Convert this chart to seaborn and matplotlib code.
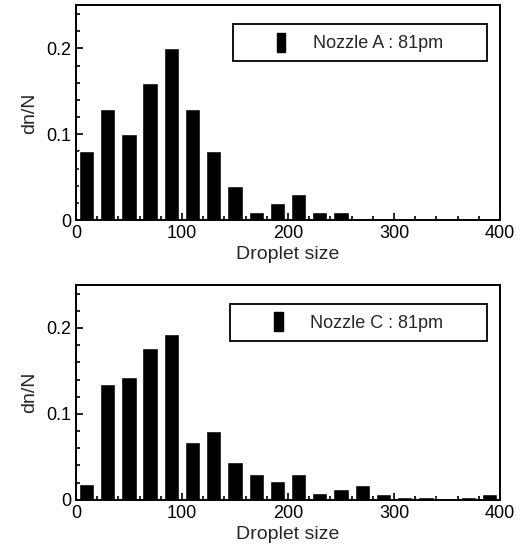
"""Droplet size distribution for two nozzles (stacked bar histograms)."""

import matplotlib.pyplot as plt
import pandas as pd
import seaborn as sns
from matplotlib.legend_handler import HandlerPatch
from matplotlib.patches import Patch, Rectangle
from matplotlib.ticker import MultipleLocator

size_a = [10, 30, 50, 70, 90, 110, 130, 150, 170, 190, 210, 230, 250]
frac_a = [0.08, 0.13, 0.10, 0.16, 0.20, 0.13, 0.08, 0.04, 0.01, 0.02, 0.03, 0.01, 0.01]

size_c = [10, 30, 50, 70, 90, 110, 130, 150, 170, 190, 210, 230, 250, 270,
          290, 310, 330, 350, 370, 390]
frac_c = [0.018, 0.135, 0.143, 0.177, 0.193, 0.067, 0.080, 0.044, 0.030, 0.022,
          0.030, 0.008, 0.012, 0.017, 0.007, 0.0035, 0.003, 0.0, 0.003, 0.007]

labels = ["Nozzle A : 81pm", "Nozzle C : 81pm"]


def setup_style() -> None:
    sns.set_theme(style="ticks")
    plt.rcParams["font.family"] = ["Liberation Sans", "DejaVu Sans"]
    plt.rcParams["axes.linewidth"] = 1.4
    plt.rcParams["axes.edgecolor"] = "black"


def narrow_bar(legend, orig_handle, xdescent, ydescent, width, height, fontsize):
    # small upright block, sitting to the right of the handle area
    w = 0.45 * fontsize
    h = 1.05 * fontsize
    x = -xdescent + 0.72 * width - w / 2
    y = -ydescent + height / 2 - h / 2
    return Rectangle((x, y), w, h)


def draw_panel(ax, sizes, fracs, label):
    df = pd.DataFrame({"size": sizes, "frac": fracs})
    sns.barplot(data=df, x="size", y="frac", native_scale=True, color="black",
                saturation=1, width=0.72, ax=ax)
    ax.set_xlim(0, 400)
    ax.set_ylim(0, 0.25)
    ax.set_xticks([0, 100, 200, 300, 400])
    ax.set_yticks([0, 0.1, 0.2])
    ax.set_yticklabels(["0", "0.1", "0.2"])
    ax.xaxis.set_minor_locator(MultipleLocator(20))
    ax.yaxis.set_minor_locator(MultipleLocator(0.02))
    ax.tick_params(which="both", direction="in", colors="black", labelsize=13,
                   width=1.2)
    ax.tick_params(which="major", length=5)
    ax.tick_params(which="minor", length=3)
    ax.set_xlabel("Droplet size", fontsize=14, labelpad=3)
    ax.set_ylabel("dn/N", fontsize=14, labelpad=6)
    for s in ax.spines.values():
        s.set_visible(True)

    handle = Patch(facecolor="black", edgecolor="black")
    leg = ax.legend([handle], [label + "       "], loc="upper right",
                    bbox_to_anchor=(0.969, 0.912), fancybox=False,
                    edgecolor="black", framealpha=1, fontsize=13,
                    handlelength=3.0, handleheight=1.1, handletextpad=0.9,
                    borderpad=0.5, borderaxespad=0,
                    handler_map={Patch: HandlerPatch(patch_func=narrow_bar)})
    leg.get_frame().set_linewidth(1.3)


setup_style()
fig = plt.figure(figsize=(5.27, 5.45), dpi=100)
ax1 = fig.add_axes([0.144, 0.596, 0.805, 0.394])
ax2 = fig.add_axes([0.144, 0.083, 0.805, 0.394])

draw_panel(ax1, size_a, frac_a, labels[0])
draw_panel(ax2, size_c, frac_c, labels[1])

fig.savefig("out.png", dpi=100)
plt.close(fig)
